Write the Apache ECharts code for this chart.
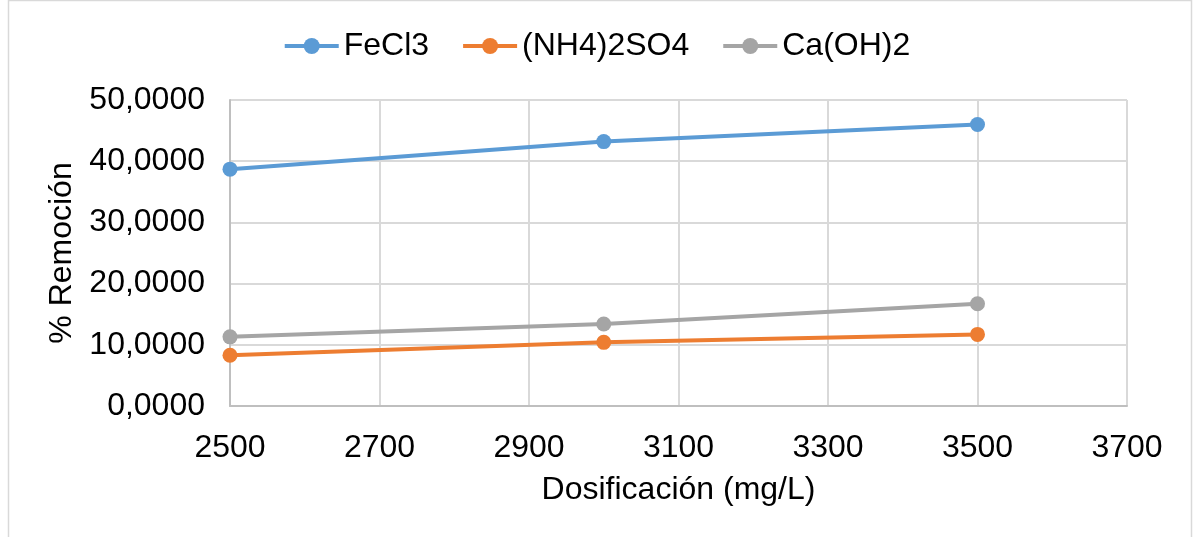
<!DOCTYPE html>
<html>
<head>
<meta charset="utf-8">
<script src="https://cdn.jsdelivr.net/npm/echarts@6/dist/echarts.min.js"></script>
<style>
    html, body { margin: 0; padding: 0; background: #fff; }
    #chart { width: 1193px; height: 537px; }
</style>
</head>
<body>
<div id="chart"></div>
<script>
// dosificación (mg/L)
const dosis = [2500, 3000, 3500]
// % remoción por coagulante
const fecl3 = [38.7, 43.2, 46.0]
const nh4so4 = [8.3, 10.4, 11.7]
const caoh2 = [11.3, 13.4, 16.7]
const seriesNames = ['FeCl3', '(NH4)2SO4', 'Ca(OH)2']

const FONT = '"Liberation Sans", Arial, sans-serif'
const FS = 32

const toPairs = vals => dosis.map((d, i) => [d, vals[i]])

const lineSerie = (name, vals, color) => ({
    name,
    type: 'line',
    data: toPairs(vals),
    symbol: 'circle',
    symbolSize: 15,
    lineStyle: { width: 4, color },
    itemStyle: { color },
    z: 3
})

const chart = echarts.init(document.getElementById('chart'), null, { renderer: 'canvas' })

chart.setOption({
    animation: false,
    color: ['#5b9bd5', '#ed7d31', '#a5a5a5'],
    textStyle: { fontFamily: FONT, color: '#000' },
    graphic: [{
        type: 'rect',
        shape: { x: 8.5, y: 0.5, width: 1183, height: 600 },
        style: { fill: 'none', stroke: '#d9d9d9', lineWidth: 1.5 },
        silent: true
    }],
    legend: {
        top: 25,
        left: 'center',
        itemWidth: 54,
        itemHeight: 20,
        itemGap: 32,
        lineStyle: { width: 4 },
        textStyle: { fontSize: FS, color: '#000', fontFamily: FONT },
        data: seriesNames
    },
    grid: {
        left: 230,
        right: 66,
        top: 100,
        bottom: 131
    },
    xAxis: {
        type: 'value',
        min: 2500,
        max: 3700,
        interval: 200,
        name: 'Dosificación (mg/L)',
        nameLocation: 'middle',
        nameGap: 68,
        nameTextStyle: { fontSize: FS, color: '#000', fontFamily: FONT },
        axisLine: { show: true, lineStyle: { color: '#bfbfbf', width: 2 } },
        axisTick: { show: false },
        axisLabel: { fontSize: FS, color: '#000', margin: 26, fontFamily: FONT, formatter: v => String(v) },
        splitLine: { show: true, lineStyle: { color: '#d9d9d9', width: 2 } }
    },
    yAxis: {
        type: 'value',
        min: 0,
        max: 50,
        interval: 10,
        name: '% Remoción',
        nameLocation: 'middle',
        nameGap: 152,
        nameRotate: 90,
        nameTextStyle: { fontSize: FS, color: '#000', fontFamily: FONT },
        axisLine: { show: true, lineStyle: { color: '#bfbfbf', width: 2 } },
        axisTick: { show: false },
        axisLabel: {
            fontSize: FS,
            color: '#000',
            margin: 25,
            fontFamily: FONT,
            formatter: v => v.toFixed(4).replace('.', ',')
        },
        splitLine: { show: true, lineStyle: { color: '#d9d9d9', width: 2 } }
    },
    series: [
        lineSerie(seriesNames[0], fecl3, '#5b9bd5'),
        lineSerie(seriesNames[1], nh4so4, '#ed7d31'),
        lineSerie(seriesNames[2], caoh2, '#a5a5a5')
    ]
})
</script>
</body>
</html>
